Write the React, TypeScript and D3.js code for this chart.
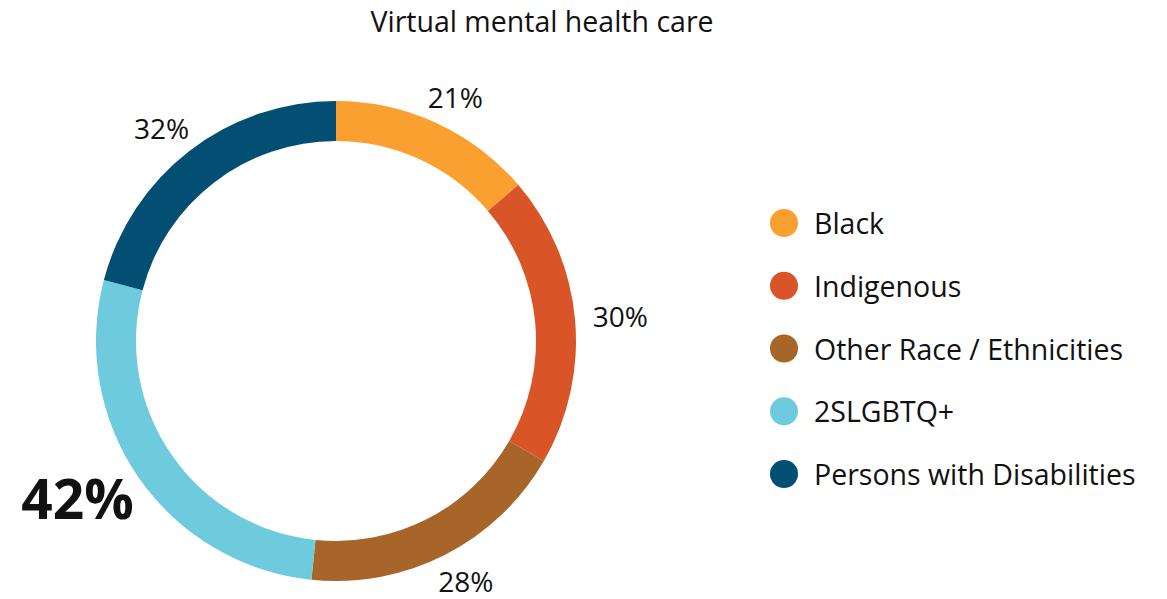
import React from "react";
import * as d3 from "d3";

const categories = ["Black", "Indigenous", "Other Race / Ethnicities", "2SLGBTQ+", "Persons with Disabilities"];
const values = [21, 30, 28, 42, 32];
const colors = ["#F9A030", "#D95527", "#A86529", "#6ECBDD", "#034F73"];
const highlightIndex = 3;
const title = "Virtual mental health care";

const W = 1167;
const H = 599;
const cx = 336;
const cy = 341;
const outerR = 240;
const innerR = 200;
const FONT = "'Open Sans', sans-serif";

export default function App() {
  const pie = d3.pie<number>().sort(null).value((d) => d)(values);
  const arc = d3.arc<d3.PieArcDatum<number>>().innerRadius(innerR).outerRadius(outerR);

  const legendY = d3.scalePoint<number>().domain(d3.range(categories.length)).range([223, 474]);

  return (
    <div style={{ position: "absolute", left: 0, top: 0 }}>
      <svg width={W} height={H} style={{ display: "block", background: "#fff" }}>
        <text x={542} y={32} textAnchor="middle" fontFamily={FONT} fontSize={28.5} fill="#111">
          {title}
        </text>
        <g transform={`translate(${cx},${cy})`}>
          {pie.map((p, i) => (
            <path key={i} d={arc(p) || ""} fill={colors[i]} />
          ))}
          {pie.map((p, i) => {
            const a = (p.startAngle + p.endAngle) / 2;
            const big = i === highlightIndex;
            const w = big ? 113 : 55;
            const h = big ? 40 : 22;
            const r = outerR + 18;
            const x = r * Math.sin(a) + Math.sin(a) * (w / 2);
            const yc = -r * Math.cos(a) - Math.cos(a) * (h / 2);
            return (
              <text
                key={"l" + i}
                x={x}
                y={yc + h / 2}
                textAnchor="middle"
                fontFamily={FONT}
                fontSize={big ? 55 : 28}
                fontWeight={big ? 700 : 400}
                fill="#111"
              >
                {`${values[i]}%`}
              </text>
            );
          })}
        </g>
        <g>
          {categories.map((c, i) => (
            <g key={c} transform={`translate(0,${legendY(i)})`}>
              <circle cx={784} cy={0} r={14} fill={colors[i]} />
              <text x={814} y={11} fontFamily={FONT} fontSize={28.5} fill="#111">
                {c}
              </text>
            </g>
          ))}
        </g>
      </svg>
    </div>
  );
}
